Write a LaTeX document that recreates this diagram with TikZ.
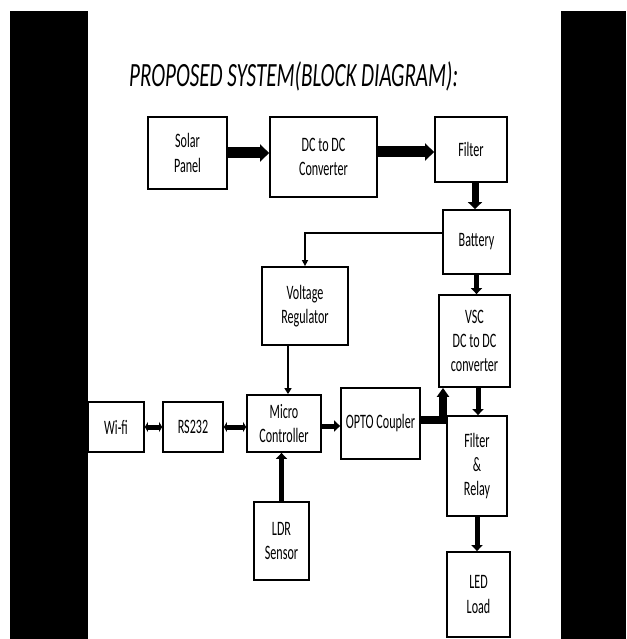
\documentclass[tikz,border=0pt]{standalone}
\usepackage{fontspec}
\newfontfamily\cond[FakeStretch=0.59]{Carlito}
\newfontfamily\condt[FakeStretch=0.62]{Carlito}
\usetikzlibrary{arrows.meta}
\tikzset{
  blk/.style={draw, line width=1.8pt, inner sep=0pt, align=center,
    font=\fontsize{20.5}{24.4}\selectfont\cond},
  arrXL/.style={line width=11pt, -{Triangle[width=17pt,length=9pt]}},
  arrL/.style={line width=7pt, -{Triangle[width=14pt,length=7pt]}},
  arrM/.style={line width=5pt, -{Triangle[width=11pt,length=6pt]}},
  arrS/.style={line width=1.5pt, -{Triangle[width=6pt,length=6pt]}},
  arrV/.style={line width=2.5pt, -{Triangle[width=7pt,length=6pt]}},
  arrD/.style={line width=5pt, {Triangle[width=10pt,length=3pt]}-{Triangle[width=10pt,length=3pt]}},
  arrO/.style={line width=8pt, -{Triangle[width=12pt,length=9pt]}},
}
\begin{document}
\begin{tikzpicture}[x=1pt,y=-1pt]
\useasboundingbox (0,0) rectangle (626,639);
\fill[black] (10,11) rectangle (88,639);
\fill[black] (561,11) rectangle (626,639);

\node[anchor=base west, inner sep=0pt, font=\fontsize{34}{40}\selectfont\condt\itshape] (title) at (129,87) {PROPOSED SYSTEM(BLOCK DIAGRAM):};

\node[blk, minimum width=79pt, minimum height=72pt] (solar) at (187.5,153) {Solar\\Panel};
\node[blk, minimum width=107pt, minimum height=80pt] (dcdc) at (323.5,157) {DC to DC\\Converter};
\node[blk, minimum width=72pt, minimum height=65pt] (filter) at (471,149.5) {Filter};
\node[blk, minimum width=67pt, minimum height=64pt] (battery) at (476.5,242) {Battery};
\node[blk, minimum width=86pt, minimum height=78pt] (vr) at (305,306) {Voltage\\Regulator};
\node[blk, minimum width=71pt, minimum height=92pt] (vsc) at (474.5,341) {VSC\\DC to DC\\converter};
\node[blk, minimum width=60pt, minimum height=100pt] (fr) at (477,466) {Filter\\\&\\Relay};
\node[blk, minimum width=56pt, minimum height=50pt] (wifi) at (116,427) {Wi-fi};
\node[blk, minimum width=60pt, minimum height=50pt] (rs) at (193,427) {RS232};
\node[blk, minimum width=74pt, minimum height=57pt] (mc) at (284,423.5) {Micro\\Controller};
\node[blk, minimum width=79pt, minimum height=71pt] (opto) at (380.5,423.5) {OPTO Coupler};
\node[blk, minimum width=55pt, minimum height=78pt] (ldr) at (281.5,541) {LDR\\Sensor};
\node[blk, minimum width=63pt, minimum height=85pt] (led) at (478.5,594.5) {LED\\Load};

\draw[arrXL] (solar.east) -- (solar.east -| dcdc.west);
\draw[arrXL] ([yshift=5pt]dcdc.east) -- ([yshift=5pt]dcdc.east -| filter.west);
\draw[arrL] ([xshift=4pt]filter.south) -- ([xshift=4pt]filter.south |- battery.north);
\draw[arrS] ([yshift=9pt]battery.west) -| (vr.north);
\draw[arrM] (battery.south) -- (battery.south |- vsc.north);
\draw[arrV] ([xshift=4pt]mc.north |- vr.south) -- ([xshift=4pt]mc.north);
\draw[arrD] (wifi.east) -- (rs.west);
\draw[arrD] (rs.east) -- (rs.east -| mc.west);
\draw[arrM] ([yshift=-2.5pt]mc.east) -- ([yshift=-2.5pt]mc.east -| opto.west);
\draw[arrO] ([yshift=4pt]opto.east) -| ([xshift=-31.5pt]vsc.south);
\draw[arrM] ([xshift=3.5pt]vsc.south) -- ([xshift=3.5pt]vsc.south |- fr.north);
\draw[arrM] (ldr.north) -- (ldr.north |- mc.south);
\draw[arrM] (fr.south) -- (fr.south |- led.north);
\end{tikzpicture}
\end{document}
